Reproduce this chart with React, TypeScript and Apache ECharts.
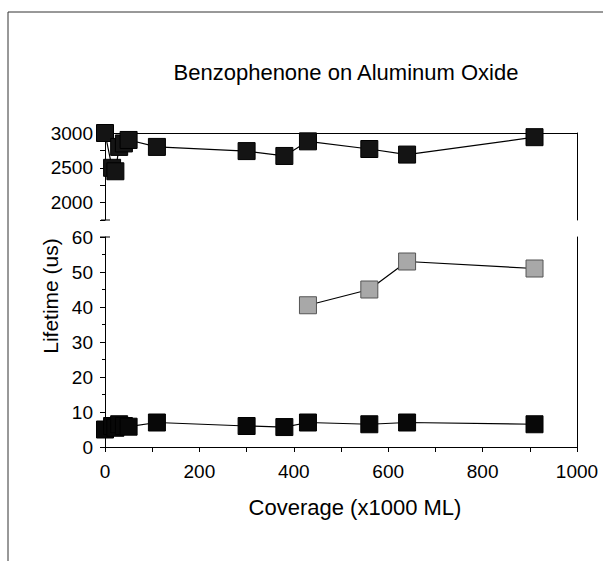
import React, { useEffect, useRef } from "react";
import * as echarts from "echarts";

const coverage = [0, 15, 22, 30, 40, 50, 110, 300, 380, 430, 560, 640, 910];
const longLifetime = [3000, 2500, 2450, 2800, 2850, 2900, 2800, 2740, 2670, 2880, 2770, 2690, 2940];
const shortLifetime = [5, 6, 5.5, 6.5, 6, 5.8, 7, 6, 5.7, 7, 6.5, 7, 6.5];
const midCoverage = [430, 560, 640, 910];
const midLifetime = [40.5, 45, 53, 51];

const xTicks = [0, 200, 400, 600, 800, 1000];
const upperTicks = [2000, 2500, 3000];

const FONT = "Liberation Sans";

export default function App() {
  const ref = useRef<HTMLDivElement>(null);
  useEffect(() => {
    if (!ref.current) return;
    const chart = echarts.init(ref.current, null, { renderer: "svg" });
    const left = 105;
    const right = 603 - 577;
    const axisCommon = {
      axisLine: { show: true, lineStyle: { color: "#000", width: 1 } },
      axisTick: { show: true, lineStyle: { color: "#000" } },
      splitLine: { show: false },
    };
    const sq = "rect";
    chart.setOption({
      animation: false,
      backgroundColor: "#fff",
      title: {
        text: "Benzophenone on Aluminum Oxide",
        left: 341,
        top: 56,
        textAlign: "center",
        textStyle: { fontFamily: FONT, fontSize: 22, fontWeight: "normal", color: "#000" },
      },
      grid: [
        { left, right, top: 133, height: 87 },
        { left, right, top: 237, height: 210 },
      ],
      xAxis: [
        {
          gridIndex: 0, type: "value", min: 0, max: 1000, position: "top",
          axisLine: { show: true, lineStyle: { color: "#000" } },
          axisTick: { show: false }, axisLabel: { show: false }, splitLine: { show: false },
        },
        {
          gridIndex: 1, type: "value", min: 0, max: 1000, interval: 100,
          ...axisCommon,
          axisTick: { show: true, length: 5, lineStyle: { color: "#000" } },
          axisLabel: {
            fontFamily: FONT, fontSize: 19, color: "#000", margin: 15,
            formatter: (v: number) => (xTicks.includes(v) ? String(v) : ""),
          },
          name: "Coverage (x1000 ML)",
          nameLocation: "middle",
          nameGap: 49,
          nameTextStyle: { fontFamily: FONT, fontSize: 22, color: "#000", padding: [0, 0, 0, 28] },
        },
      ],
      yAxis: [
        {
          gridIndex: 0, type: "value", min: 1750, max: 3000, interval: 250,
          ...axisCommon,
          axisTick: { show: true, length: 5, lineStyle: { color: "#000" } },
          axisLabel: {
            fontFamily: FONT, fontSize: 19, color: "#000", margin: 12,
            formatter: (v: number) => (upperTicks.includes(v) ? String(v) : ""),
          },
        },
        {
          gridIndex: 1, type: "value", min: 0, max: 60, interval: 10,
          ...axisCommon,
          axisTick: { show: true, length: 5, lineStyle: { color: "#000" } },
          minorTick: { show: true, splitNumber: 2, length: 3, lineStyle: { color: "#000" } },
          axisLabel: { fontFamily: FONT, fontSize: 19, color: "#000", margin: 12 },
        },
        {
          gridIndex: 0, type: "value", min: 1750, max: 3000, position: "right",
          axisLine: { show: true, lineStyle: { color: "#000" } },
          axisTick: { show: false }, axisLabel: { show: false }, splitLine: { show: false },
        },
        {
          gridIndex: 1, type: "value", min: 0, max: 60, position: "right",
          axisLine: { show: true, lineStyle: { color: "#000" } },
          axisTick: { show: false }, axisLabel: { show: false }, splitLine: { show: false },
        },
      ],
      graphic: [
        { type: "line", shape: { x1: 8, y1: 12, x2: 603, y2: 12 }, style: { stroke: "#333", lineWidth: 1 } },
        { type: "line", shape: { x1: 8, y1: 12, x2: 8, y2: 561 }, style: { stroke: "#333", lineWidth: 1 } },
        { type: "line", shape: { x1: 101, y1: 220, x2: 110, y2: 220 }, style: { stroke: "#000", lineWidth: 1 } },
        { type: "line", shape: { x1: 100, y1: 237, x2: 110, y2: 237 }, style: { stroke: "#000", lineWidth: 1 } },
        {
          type: "text", x: 50, y: 296, rotation: Math.PI / 2,
          style: {
            text: "Lifetime (us)", fontFamily: FONT, fontSize: 21, fill: "#000",
            align: "center", verticalAlign: "middle",
          },
        },
      ],
      series: [
        {
          type: "line", xAxisIndex: 0, yAxisIndex: 0,
          data: coverage.map((c, i) => [c, longLifetime[i]]),
          symbol: sq, symbolSize: 17, clip: false,
          lineStyle: { color: "#000", width: 1.2 },
          itemStyle: { color: "#141414", borderColor: "#000", borderWidth: 1 },
        },
        {
          type: "line", xAxisIndex: 1, yAxisIndex: 1,
          data: coverage.map((c, i) => [c, shortLifetime[i]]),
          symbol: sq, symbolSize: 17, clip: false,
          lineStyle: { color: "#000", width: 1.2 },
          itemStyle: { color: "#080808", borderColor: "#000", borderWidth: 1 },
        },
        {
          type: "line", xAxisIndex: 1, yAxisIndex: 1,
          data: midCoverage.map((c, i) => [c, midLifetime[i]]),
          symbol: sq, symbolSize: 17, clip: false,
          lineStyle: { color: "#000", width: 1.2 },
          itemStyle: { color: "#a8a8a8", borderColor: "#555", borderWidth: 1 },
        },
      ],
    });
    return () => chart.dispose();
  }, []);
  return (
    <div
      ref={ref}
      style={{ position: "fixed", left: 0, top: 0, width: 603, height: 561, background: "#fff" }}
    />
  );
}
